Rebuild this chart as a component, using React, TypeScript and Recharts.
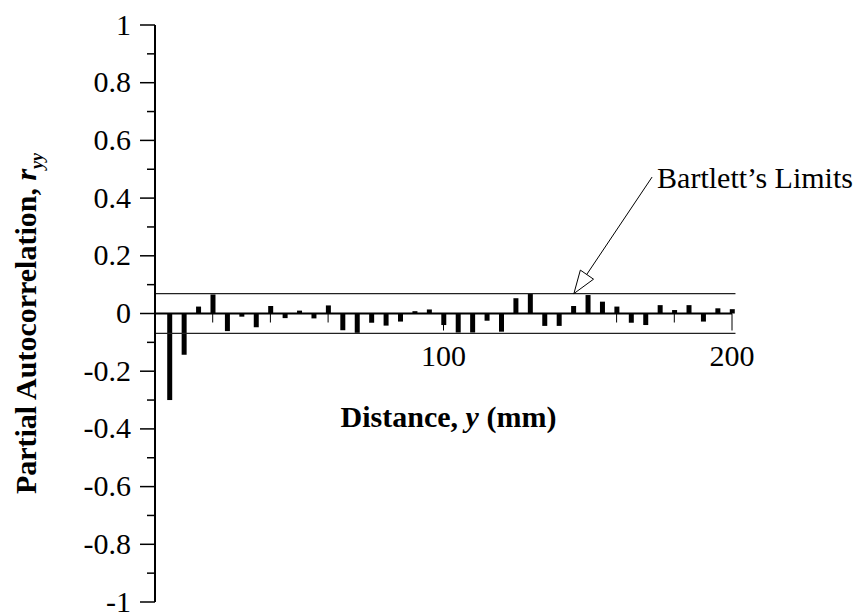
import { BarChart, Bar, XAxis, YAxis, ReferenceLine, ReferenceDot, Label } from 'recharts';

const FONT = '"Liberation Serif", "Times New Roman", serif';

// lag distance (mm) and partial autocorrelation at that lag
const lags = [5, 10, 15, 20, 25, 30, 35, 40, 45, 50, 55, 60, 65, 70, 75, 80, 85, 90, 95, 100,
  105, 110, 115, 120, 125, 130, 135, 140, 145, 150, 155, 160, 165, 170, 175, 180, 185, 190, 195, 200];
const pacf = [-0.3, -0.143, 0.024, 0.066, -0.061, -0.011, -0.048, 0.026, -0.016, 0.01,
  -0.017, 0.028, -0.058, -0.067, -0.032, -0.042, -0.028, 0.008, 0.014, -0.04,
  -0.066, -0.066, -0.025, -0.063, 0.053, 0.07, -0.043, -0.043, 0.026, 0.064,
  0.041, 0.024, -0.032, -0.04, 0.029, 0.012, 0.029, -0.028, 0.018, 0.015];

const bartlett = [0.069, -0.069];
const yTicks = [-1, -0.9, -0.8, -0.7, -0.6, -0.5, -0.4, -0.3, -0.2, -0.1, 0,
  0.1, 0.2, 0.3, 0.4, 0.5, 0.6, 0.7, 0.8, 0.9, 1];
const xTicks = [20, 40, 60, 80, 100, 120, 140, 160, 180, 200];
const xLabelled = [100, 200];

// arrow from the annotation text down to the upper limit line
const arrowTail = { x: 172.3, y: 0.473 };
const arrowTip = { x: 145.2, y: 0.069 };

const data = lags.map((lag, i) => ({ lag, r: pacf[i] }));

const isMajorY = (v: number) => Math.abs(Math.round(v * 10)) % 2 === 0;
const fmt = (v: number) => String(Math.round(v * 10) / 10);

const YTick = ({ x, y, payload }: any) => {
  const major = isMajorY(payload.value);
  return (
    <g>
      <line x1={x - (major ? 15 : 8)} y1={y} x2={x} y2={y} stroke="#000" strokeWidth={1.5} />
      {major && (
        <text x={x - 24} y={y + 9.5} textAnchor="end" fontSize={30} fontFamily={FONT} fill="#000">
          {fmt(payload.value)}
        </text>
      )}
    </g>
  );
};

const XTick = (value: number) => (props: any) => {
  const major = xLabelled.includes(value);
  return (
    <g>
      <line x1={props.cx} y1={props.cy} x2={props.cx} y2={props.cy + (major ? 17 : 9)} stroke="#000" strokeWidth={1} />
      {major && (
        <text x={props.cx} y={props.cy + 52} textAnchor="middle" fontSize={30} fontFamily={FONT} fill="#000">
          {value}
        </text>
      )}
    </g>
  );
};

const YTitle = ({ viewBox }: any) => {
  const cx = viewBox.x + 36;
  const cy = viewBox.y + viewBox.height / 2 + 10;
  return (
    <text x={cx} y={cy} transform={`rotate(-90 ${cx} ${cy})`} textAnchor="middle"
      fontSize={30} fontWeight="bold" fontFamily={FONT} fill="#000">
      Partial Autocorrelation, <tspan fontStyle="italic">r</tspan>
      <tspan dy={7} fontSize={18} fontStyle="italic">yy</tspan>
    </text>
  );
};

const XTitle = ({ viewBox }: any) => (
  <text x={viewBox.x + viewBox.width / 2 + 5} y={viewBox.y + 113} textAnchor="middle"
    fontSize={30} fontWeight="bold" fontFamily={FONT} fill="#000">
    Distance, <tspan fontStyle="italic">y</tspan> (mm)
  </text>
);

const ArrowHead = ({ cx, cy }: any) => {
  // hollow triangular head pointing along the arrow
  const ux = 0.567, uy = -0.824, len = 23, half = 8;
  const bx = cx + ux * len, by = cy + uy * len;
  const pts = `${cx},${cy} ${bx - uy * half},${by + ux * half} ${bx + uy * half},${by - ux * half}`;
  return <polygon points={pts} fill="#fff" stroke="#000" strokeWidth={1} />;
};

const Annotation = ({ cx, cy }: any) => (
  <text x={cx + 5} y={cy + 11} fontSize={30} fontFamily={FONT} fill="#000">Bartlett’s Limits</text>
);

export default function App() {
  return (
    <div style={{ position: 'absolute', left: 0, top: 0, background: '#fff' }}>
      <BarChart width={867} height={612} data={data} margin={{ top: 25, right: 135, bottom: 10, left: 0 }}
        style={{ fontFamily: FONT }}>
        <XAxis dataKey="lag" type="number" domain={[0, 200]} hide />
        <YAxis type="number" domain={[-1, 1]} ticks={yTicks} interval={0} width={155}
          tickSize={0} tickMargin={0} tickLine={false} tick={<YTick />}
          axisLine={{ stroke: '#000', strokeWidth: 2 }}>
          <Label content={<YTitle />} />
        </YAxis>
        {bartlett.map((b) => (
          <ReferenceLine key={b} segment={[{ x: 0, y: b }, { x: 201.2, y: b }]} ifOverflow="visible"
            stroke="#222" strokeWidth={1.2} />
        ))}
        <Bar dataKey="r" fill="#000" barSize={5} isAnimationActive={false} />
        <ReferenceLine y={0} stroke="#000" strokeWidth={2} label={<XTitle />} />
        {xTicks.map((t) => (
          <ReferenceDot key={t} x={t} y={0} r={0} shape={XTick(t)} />
        ))}
        <ReferenceLine segment={[arrowTail, arrowTip]} ifOverflow="visible" stroke="#000" strokeWidth={1} />
        <ReferenceDot x={arrowTip.x} y={arrowTip.y} r={0} shape={<ArrowHead />} ifOverflow="visible" />
        <ReferenceDot x={arrowTail.x} y={arrowTail.y} r={0} shape={<Annotation />} ifOverflow="visible" />
      </BarChart>
    </div>
  );
}
